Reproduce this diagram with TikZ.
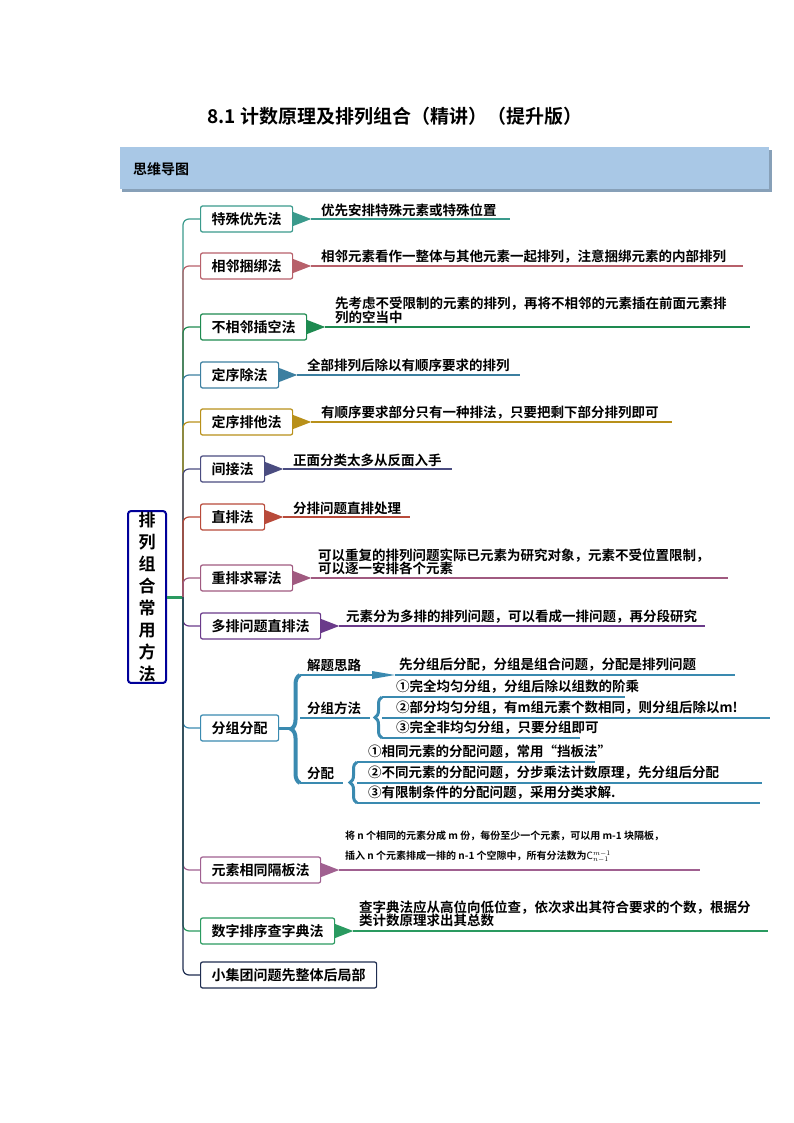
\documentclass[tikz,border=0pt]{standalone}
\usepackage{fontspec}
\setmainfont{Noto Sans CJK SC}[BoldFont={* Bold}]
\usetikzlibrary{positioning,calc,decorations.pathreplacing}
\definecolor{cteal}{HTML}{3A9A8C}
\definecolor{crose}{HTML}{B7606A}
\definecolor{cgreen}{HTML}{1E8A50}
\definecolor{cblue}{HTML}{3C7FA0}
\definecolor{cgold}{HTML}{B8901A}
\definecolor{cnavy}{HTML}{4A4C80}
\definecolor{cred}{HTML}{B84A3A}
\definecolor{cmauve}{HTML}{A05A80}
\definecolor{cpurple}{HTML}{6A3A8A}
\definecolor{csteel}{HTML}{3A8AB0}
\definecolor{cpink}{HTML}{A06090}
\definecolor{cjade}{HTML}{2A9A60}
\definecolor{cdark}{HTML}{1F2D50}
\definecolor{cband}{HTML}{A9C8E6}
\tikzset{
  every node/.style={inner sep=1pt},
  topic/.style={draw=#1, fill=white, line width=1.2pt, rounded corners=2pt,
    minimum height=26pt, inner xsep=11pt, anchor=west, font=\bfseries\fontsize{14}{15}\selectfont},
  desc/.style={anchor=south west, align=left, font=\bfseries\fontsize{13.5}{14}\selectfont},
  small/.style={anchor=south west, align=left, font=\bfseries\fontsize{10}{11}\selectfont},
  leg/.style={line width=1.2pt},
}
\newcommand{\wedgeto}[3]{% box, colour, tip coordinate name
  \fill[#2] ($(#1.east)+(0,7)$) -- ($(#1.east)+(18,0)$) -- ($(#1.east)+(0,-7)$) -- cycle;
  \coordinate (#3) at ($(#1.east)+(18,0)$);}
\begin{document}
\begin{tikzpicture}[x=1pt,y=-1pt]
	\useasboundingbox (0,0) rectangle (794,1123);
	% title and band
	\node[font=\bfseries\fontsize{19}{22}\selectfont] (title) at (395,116) {8.1 计数原理及排列组合（精讲）（提升版）};
	\fill[cband!80!black] (122,150) rectangle (772,192);
	\fill[cband] (120,147) rectangle (769,189);
	\node[anchor=west, font=\bfseries\fontsize{14}{16}\selectfont] (band) at (132,169) {思维导图};

	% root
	\node[draw=blue!60!black, line width=2pt, rounded corners=3pt, fill=white, align=center,
	  minimum width=38pt, minimum height=162pt, font=\bfseries\fontsize{17}{22}\selectfont] (root) at (147,597)
	  {排\\列\\组\\合\\常\\用\\方\\法};
	\coordinate (hub) at (183,597);
	\draw[cjade, line width=3pt] (root.east) -- (hub);

	% topics
	\node[topic=cteal] (tsyx) at (200,219) {特殊优先法};
	\node[topic=crose] (xlkb) at (200,266) {相邻捆绑法};
	\node[topic=cgreen] (bxlcz) at (200,327) {不相邻插空法};
	\node[topic=cblue] (dxcf) at (200,375) {定序除法};
	\node[topic=cgold] (dxpt) at (200,422) {定序排他法};
	\node[topic=cnavy] (jjf) at (200,469) {间接法};
	\node[topic=cred] (zpf) at (200,517) {直排法};
	\node[topic=cmauve] (cpqm) at (200,578) {重排求幂法};
	\node[topic=cpurple] (dpzp) at (200,626) {多排问题直排法};
	\node[topic=csteel] (fzfp) at (200,728) {分组分配};
	\node[topic=cpink] (ysgb) at (200,870) {元素相同隔板法};
	\node[topic=cjade] (szcz) at (200,931) {数字排序查字典法};
	\node[topic=cdark] (xjt) at (200,975) {小集团问题先整体后局部};

	% trunk legs
	\foreach \t/\c in {tsyx/cteal, xlkb/crose, bxlcz/cgreen, dxcf/cblue, dxpt/cgold,
	  jjf/cnavy, zpf/cred, cpqm/cmauve, dpzp/cpurple, fzfp/csteel, ysgb/cpink, szcz/cjade, xjt/cdark}
	  \draw[\c, leg, rounded corners=6pt] (hub) -- (hub |- \t.west) -- (\t.west);

	% single descriptions
	\wedgeto{tsyx}{cteal}{a1}
	\draw[cteal, leg] (a1) -- (510,219) coordinate (e1);
	\node[desc] (d1) at (320,218) {优先安排特殊元素或特殊位置};
	\wedgeto{xlkb}{crose}{a2}
	\draw[crose, leg] (a2) -- (743,266) coordinate (e2);
	\node[desc] (d2) at (320,265) {相邻元素看作一整体与其他元素一起排列，注意捆绑元素的内部排列};
	\wedgeto{bxlcz}{cgreen}{a3}
	\draw[cgreen, leg] (a3) -- (750,327) coordinate (e3);
	\node[desc, font=\bfseries\fontsize{13.5}{13.5}\selectfont] (d3) at (334,325) {先考虑不受限制的元素的排列，再将不相邻的元素插在前面元素排\\列的空当中};
	\wedgeto{dxcf}{cblue}{a4}
	\draw[cblue, leg] (a4) -- (520,375) coordinate (e4);
	\node[desc] (d4) at (306,373) {全部排列后除以有顺序要求的排列};
	\wedgeto{dxpt}{cgold}{a5}
	\draw[cgold, leg] (a5) -- (672,422) coordinate (e5);
	\node[desc] (d5) at (320,421) {有顺序要求部分只有一种排法，只要把剩下部分排列即可};
	\wedgeto{jjf}{cnavy}{a6}
	\draw[cnavy, leg] (a6) -- (452,469) coordinate (e6);
	\node[desc] (d6) at (292,468) {正面分类太多从反面入手};
	\wedgeto{zpf}{cred}{a7}
	\draw[cred, leg] (a7) -- (410,517) coordinate (e7);
	\node[desc] (d7) at (292,516) {分排问题直排处理};
	\wedgeto{cpqm}{cmauve}{a8}
	\draw[cmauve, leg] (a8) -- (728,578) coordinate (e8);
	\node[desc, font=\bfseries\fontsize{13.5}{13.5}\selectfont] (d8) at (317,576) {可以重复的排列问题实际已元素为研究对象，元素不受位置限制，\\可以逐一安排各个元素};
	\wedgeto{dpzp}{cpurple}{a9}
	\draw[cpurple, leg] (a9) -- (705,626) coordinate (e9);
	\node[desc] (d9) at (345,625) {元素分为多排的排列问题，可以看成一排问题，再分段研究};
	\wedgeto{ysgb}{cpink}{a11}
	\draw[cpink, leg] (a11) -- (700,870) coordinate (e11);
	\node[small] (d11a) at (344,842) {将 n 个相同的元素分成 m 份，每份至少一个元素，可以用 m-1 块隔板，};
	\node[small] (d11b) at (344,864) {插入 n 个元素排成一排的 n-1 个空隙中，所有分法数为$\mathrm{C}_{n-1}^{m-1}$};
	\wedgeto{szcz}{cjade}{a12}
	\draw[cjade, leg] (a12) -- (768,931) coordinate (e12);
	\node[desc, font=\bfseries\fontsize{13.5}{13.5}\selectfont] (d12) at (358,928) {查字典法应从高位向低位查，依次求出其符合要求的个数，根据分\\类计数原理求出其总数};

	% grouping section
	\draw[csteel, line width=3pt] (fzfp.east) -- (292,728);
	\draw[csteel, line width=4pt, decorate, decoration={brace, amplitude=9pt}] (300,783) -- (300,675);
	\node[desc] (s1) at (306,673) {解题思路};
	\node[desc] (s2) at (306,716) {分组方法};
	\node[desc] (s3) at (306,781) {分配};
	\draw[csteel, leg] (300,675) coordinate (u1) -- (372,675);
	\draw[csteel, leg] (300,718) coordinate (u2) -- (370,718);
	\draw[csteel, leg] (300,783) coordinate (u3) -- (343,783);
	\fill[csteel] (372,671) -- (395,675) -- (372,679) -- cycle;
	\draw[csteel, leg] (395,675) -- (735,675);
	\node[desc] (g1) at (398,673) {先分组后分配，分组是组合问题，分配是排列问题};
	% 分组方法
	\draw[csteel, line width=3pt, decorate, decoration={brace, amplitude=7pt}] (382,738) -- (382,697);
	\foreach \y/\e in {697/625, 718/770, 738/580}
	  \draw[csteel, leg] (382,\y) -- (\e,\y);
	\node[desc] (m1) at (395,695) {①完全均匀分组，分组后除以组数的阶乘};
	\node[desc] (m2) at (395,716) {②部分均匀分组，有m组元素个数相同，则分组后除以m!};
	\node[desc] (m3) at (395,736) {③完全非均匀分组，只要分组即可};
	% 分配
	\draw[csteel, line width=3pt, decorate, decoration={brace, amplitude=7pt}] (357,803) -- (357,762);
	\foreach \y/\e in {762/595, 783/762, 803/760}
	  \draw[csteel, leg] (357,\y) -- (\e,\y);
	\node[desc] (p1) at (367,760) {①相同元素的分配问题，常用“挡板法”};
	\node[desc] (p2) at (367,781) {②不同元素的分配问题，分步乘法计数原理，先分组后分配};
	\node[desc] (p3) at (367,801) {③有限制条件的分配问题，采用分类求解.};
\end{tikzpicture}
\end{document}
